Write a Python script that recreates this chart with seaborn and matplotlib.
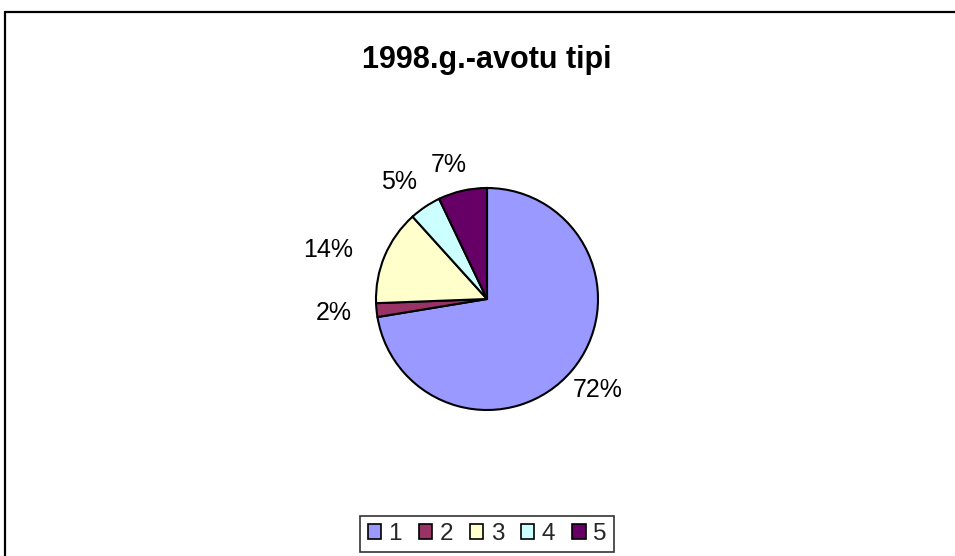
import numpy as np
import matplotlib
matplotlib.use("Agg")
import matplotlib.pyplot as plt
import seaborn as sns
from matplotlib.lines import Line2D

categories = ["1", "2", "3", "4", "5"]
values = [72.4, 2.0, 13.9, 4.6, 7.1]
colors = ["#9999FF", "#993366", "#FFFFCC", "#CCFFFF", "#660066"]
title = "1998.g.-avotu tipi"

sns.set_theme(style="white")
plt.rcParams["font.family"] = ["Liberation Sans", "DejaVu Sans"]

W, H = 955, 556
fig = plt.figure(figsize=(W / 100, H / 100), dpi=100)
fig.patch.set_facecolor("white")

# outer chart frame (top and left visible; rest is cut off)
fig.add_artist(Line2D([5 / W, 5 / W], [0, 1 - 12 / H], transform=fig.transFigure,
                      color="black", lw=1.6))
fig.add_artist(Line2D([5 / W, 1], [1 - 12 / H, 1 - 12 / H], transform=fig.transFigure,
                      color="black", lw=1.6))

cx, cy, half = 487, 299, 150
ax = fig.add_axes([(cx - half) / W, (H - cy - half) / H, 2 * half / W, 2 * half / H])

wedges, _ = ax.pie(values, colors=colors, startangle=90, counterclock=False,
                   radius=1, wedgeprops=dict(edgecolor="black", linewidth=1.5))
lim = half / 111
ax.set_xlim(-lim, lim)
ax.set_ylim(-lim, lim)
ax.axis("off")

label_r = [1.29, 1.39, 1.50, 1.32, 1.26]
label_dtheta = [0.9, -0.6, 5.7, 3.2, 3.2]
total = sum(values)
for w, v, r, dt in zip(wedges, values, label_r, label_dtheta):
    th = np.deg2rad((w.theta1 + w.theta2) / 2 + dt)
    ax.text(r * np.cos(th), r * np.sin(th), f"{100 * v / total:.0f}%",
            ha="center", va="center", fontsize=18, color="black")

fig.text(487 / W, 1 - 60 / H, title, ha="center", va="center",
         fontsize=22, fontweight="bold", color="black")

leg = fig.legend(wedges, categories, loc="center", bbox_to_anchor=(487 / W, 1 - 534 / H),
                 ncol=5, fontsize=17.5, frameon=True, fancybox=False, shadow=False,
                 handlelength=0.55, handleheight=0.55, handletextpad=0.3,
                 columnspacing=0.7, borderpad=0.3, borderaxespad=0)
leg.get_frame().set_edgecolor("black")
leg.get_frame().set_linewidth(1.2)
for h in leg.legend_handles:
    h.set_edgecolor("black")
    h.set_linewidth(1.2)

fig.savefig("out.png", dpi=100, facecolor="white")
